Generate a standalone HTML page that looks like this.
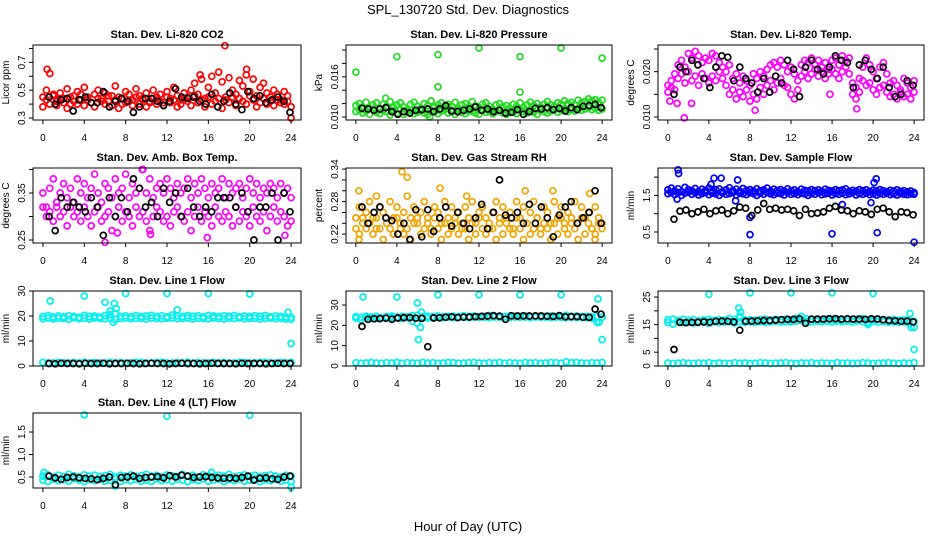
<!DOCTYPE html>
<html><head><meta charset="utf-8">
<style>
html,body{margin:0;padding:0;background:#fff;}
svg{display:block;font-family:"Liberation Sans",Arial,sans-serif;}
</style></head>
<body>
<svg id="chart" width="936" height="540" viewBox="0 0 936 540" xmlns="http://www.w3.org/2000/svg">
<text x="468" y="14" font-size="13" text-anchor="middle">SPL_130720  Std. Dev. Diagnostics</text>
<text x="468" y="531" font-size="13" text-anchor="middle">Hour of Day (UTC)</text>
</svg>
<script>
const xTicks=[0,4,8,12,16,20,24];
// CO2
const co2A=[0.45,0.50,0.62,0.47,0.42,0.48,0.44,0.51,0.40,0.46,0.49,0.43,0.52,0.45,0.41,0.47,0.50,0.44,0.48,0.42,0.46,0.53,0.45,0.40,0.49,0.47,0.43,0.51,0.46,0.44,0.48,0.42,0.50,0.45,0.47,0.41,0.49,0.44,0.52,0.46,0.43,0.48,0.45,0.50,0.55,0.47,0.58,0.44,0.52,0.60,0.48,0.63,0.56,0.45,0.59,0.50,0.47,0.57,0.53,0.61,0.49,0.58,0.46,0.52,0.55,0.48,0.45,0.50,0.47,0.43,0.49,0.46,0.30];
const co2B=[0.38,0.43,0.40,0.46,0.39,0.44,0.41,0.37,0.45,0.42,0.40,0.47,0.39,0.43,0.41,0.38,0.44,0.42,0.40,0.46,0.39,0.43,0.37,0.44,0.41,0.42,0.39,0.45,0.40,0.43,0.38,0.41,0.44,0.40,0.42,0.39,0.45,0.41,0.43,0.38,0.40,0.44,0.42,0.39,0.46,0.41,0.43,0.38,0.45,0.40,0.42,0.44,0.37,0.43,0.41,0.45,0.39,0.44,0.42,0.40,0.46,0.43,0.38,0.41,0.44,0.40,0.42,0.39,0.43,0.41,0.40,0.42,0.38];
const co2Out=[[17.6,0.82],[0.4,0.65],[19.7,0.65],[15.2,0.61]];
const co2Blk=[0.45,0.40,0.43,0.44,0.35,0.43,0.45,0.41,0.41,0.49,0.38,0.42,0.44,0.42,0.34,0.38,0.44,0.44,0.42,0.39,0.42,0.51,0.45,0.44,0.45,0.42,0.40,0.47,0.38,0.42,0.48,0.40,0.36,0.49,0.44,0.46,0.41,0.43,0.45,0.42,0.34];
// Pressure
const prsA=[0.0117,0.0120,0.0115,0.0122,0.0113,0.0118,0.0121,0.0112,0.0119,0.0116,0.0123,0.0114,0.0118,0.0121,0.0115,0.0111,0.0119,0.0122,0.0116,0.0113,0.0120,0.0117,0.0124,0.0115,0.0118,0.0121,0.0114,0.0119,0.0116,0.0122,0.0113,0.0118,0.0120,0.0115,0.0123,0.0117,0.0114,0.0119,0.0121,0.0116,0.0112,0.0118,0.0120,0.0115,0.0117,0.0113,0.0119,0.0116,0.0121,0.0114,0.0118,0.0122,0.0117,0.0120,0.0115,0.0119,0.0123,0.0118,0.0116,0.0121,0.0119,0.0124,0.0120,0.0122,0.0118,0.0125,0.0121,0.0123,0.0127,0.0124,0.0126,0.0122,0.0125];
const prsB=[0.0108,0.0110,0.0106,0.0109,0.0104,0.0111,0.0107,0.0105,0.0110,0.0108,0.0103,0.0109,0.0106,0.0111,0.0104,0.0108,0.0110,0.0105,0.0107,0.0109,0.0106,0.0104,0.0110,0.0108,0.0105,0.0109,0.0111,0.0106,0.0108,0.0104,0.0110,0.0107,0.0105,0.0109,0.0108,0.0106,0.0104,0.0110,0.0107,0.0109,0.0105,0.0108,0.0110,0.0106,0.0104,0.0109,0.0107,0.0105,0.0111,0.0108,0.0106,0.0109,0.0107,0.0104,0.0110,0.0108,0.0106,0.0109,0.0111,0.0107,0.0110,0.0112,0.0108,0.0111,0.0109,0.0113,0.0110,0.0112,0.0114,0.0111,0.0113,0.0110,0.0112];
const prsOut=[[0,0.0167],[4,0.019],[8,0.0193],[8,0.0145],[12,0.0203],[16,0.019],[16,0.0137],[20,0.0203],[24,0.0188],[7.2,0.0100],[2.9,0.0128]];
const prsBlk=[0.0113,0.0112,0.0110,0.0112,0.0114,0.0108,0.0104,0.0108,0.0106,0.0110,0.0111,0.0112,0.0108,0.0112,0.0117,0.0109,0.0108,0.0110,0.0112,0.0115,0.0110,0.0112,0.0108,0.0110,0.0106,0.0107,0.0111,0.0104,0.0108,0.0113,0.0112,0.0114,0.0111,0.0113,0.0109,0.0114,0.0111,0.0116,0.0117,0.0119,0.0114];
// Li-820 Temp
const tmpA=[0.0170,0.0180,0.0195,0.0215,0.0225,0.0210,0.0240,0.0230,0.0245,0.0235,0.0220,0.0230,0.0225,0.0240,0.0235,0.0220,0.0210,0.0200,0.0215,0.0185,0.0195,0.0175,0.0190,0.0180,0.0170,0.0195,0.0185,0.0200,0.0190,0.0205,0.0215,0.0220,0.0210,0.0225,0.0215,0.0200,0.0210,0.0195,0.0180,0.0215,0.0225,0.0220,0.0230,0.0215,0.0225,0.0210,0.0220,0.0205,0.0225,0.0230,0.0215,0.0235,0.0225,0.0230,0.0175,0.0165,0.0185,0.0210,0.0230,0.0215,0.0200,0.0185,0.0210,0.0220,0.0195,0.0175,0.0180,0.0170,0.0160,0.0185,0.0175,0.0165,0.0180];
const tmpB=[0.0155,0.0165,0.0160,0.0185,0.0195,0.0175,0.0200,0.0180,0.0190,0.0170,0.0195,0.0185,0.0175,0.0190,0.0180,0.0200,0.0185,0.0170,0.0150,0.0160,0.0140,0.0155,0.0145,0.0160,0.0135,0.0150,0.0140,0.0165,0.0150,0.0170,0.0180,0.0160,0.0175,0.0185,0.0170,0.0165,0.0150,0.0140,0.0160,0.0190,0.0200,0.0185,0.0195,0.0205,0.0190,0.0200,0.0185,0.0195,0.0205,0.0195,0.0185,0.0200,0.0210,0.0195,0.0150,0.0140,0.0155,0.0180,0.0170,0.0175,0.0160,0.0150,0.0165,0.0170,0.0155,0.0145,0.0150,0.0140,0.0155,0.0145,0.0150,0.0140,0.0155];
const tmpOut=[[1.6,0.0098],[0.2,0.0135],[0.9,0.0130],[2.3,0.0130],[15.8,0.0150],[18.4,0.0118],[8.5,0.0115]];
const tmpBlk=[0.0150,0.0210,0.0200,0.0225,0.0215,0.0185,0.0165,0.0210,0.0235,0.0232,0.0180,0.0210,0.0185,0.0175,0.0155,0.0185,0.0155,0.0190,0.0175,0.0225,0.0205,0.0145,0.0210,0.0225,0.0205,0.0195,0.0210,0.0235,0.0225,0.0220,0.0165,0.0215,0.0225,0.0205,0.0185,0.0210,0.0165,0.0145,0.0150,0.0180,0.0170];
// Amb box temp
const ambA=[0.35,0.32,0.36,0.38,0.33,0.35,0.37,0.34,0.36,0.33,0.38,0.35,0.37,0.34,0.36,0.39,0.35,0.33,0.37,0.36,0.34,0.38,0.35,0.36,0.39,0.34,0.37,0.35,0.36,0.40,0.35,0.38,0.34,0.36,0.37,0.35,0.38,0.36,0.34,0.37,0.35,0.36,0.38,0.34,0.37,0.35,0.38,0.36,0.34,0.37,0.35,0.36,0.38,0.34,0.37,0.35,0.36,0.37,0.34,0.36,0.38,0.35,0.37,0.34,0.36,0.35,0.37,0.36,0.34,0.37,0.35,0.36,0.34];
const ambB=[0.32,0.30,0.31,0.29,0.32,0.30,0.31,0.28,0.32,0.30,0.31,0.29,0.32,0.30,0.28,0.31,0.32,0.29,0.30,0.31,0.27,0.30,0.32,0.29,0.31,0.30,0.28,0.32,0.30,0.31,0.29,0.27,0.30,0.32,0.31,0.29,0.30,0.28,0.31,0.32,0.30,0.29,0.31,0.27,0.30,0.32,0.29,0.31,0.30,0.28,0.32,0.30,0.29,0.31,0.30,0.28,0.32,0.29,0.31,0.30,0.28,0.32,0.30,0.29,0.31,0.27,0.30,0.32,0.29,0.31,0.30,0.28,0.29];
const ambOut=[[6.0,0.245],[9.6,0.40],[7.2,0.265],[10.4,0.262],[15.9,0.255],[23.4,0.26]];
const ambBlk=[0.30,0.27,0.34,0.32,0.33,0.32,0.31,0.34,0.32,0.26,0.34,0.30,0.34,0.31,0.38,0.36,0.32,0.33,0.30,0.36,0.33,0.35,0.30,0.36,0.32,0.30,0.32,0.31,0.34,0.34,0.34,0.32,0.35,0.31,0.25,0.32,0.32,0.35,0.25,0.35,0.31];
// RH
const rhA=[0.25,0.27,0.24,0.26,0.28,0.25,0.23,0.27,0.26,0.24,0.28,0.25,0.27,0.23,0.26,0.29,0.25,0.27,0.24,0.26,0.28,0.25,0.23,0.27,0.26,0.24,0.28,0.25,0.27,0.24,0.26,0.23,0.27,0.25,0.28,0.24,0.26,0.27,0.25,0.23,0.26,0.28,0.24,0.27,0.25,0.26,0.23,0.28,0.25,0.27,0.24,0.26,0.28,0.25,0.23,0.27,0.26,0.24,0.28,0.25,0.27,0.24,0.26,0.25,0.28,0.24,0.27,0.25,0.26,0.23,0.27,0.25,0.24];
const rhB=[0.23,0.22,0.25,0.23,0.24,0.22,0.25,0.23,0.21,0.24,0.23,0.22,0.25,0.24,0.22,0.23,0.21,0.24,0.25,0.22,0.23,0.24,0.22,0.25,0.23,0.21,0.24,0.22,0.23,0.25,0.22,0.24,0.23,0.21,0.24,0.22,0.25,0.23,0.22,0.24,0.23,0.21,0.25,0.22,0.24,0.23,0.22,0.25,0.23,0.21,0.24,0.22,0.23,0.25,0.22,0.24,0.23,0.21,0.24,0.22,0.25,0.23,0.22,0.24,0.23,0.21,0.25,0.22,0.24,0.23,0.22,0.24,0.23];
const rhOut=[[0.3,0.30],[0.3,0.21],[4.5,0.335],[5.0,0.325],[8.2,0.305],[2.0,0.29],[10.8,0.29],[16.5,0.30],[19.2,0.30],[22.8,0.295],[23.3,0.21]];
const rhBlk=[0.27,0.24,0.26,0.27,0.25,0.245,0.22,0.24,0.21,0.265,0.215,0.265,0.225,0.25,0.27,0.235,0.26,0.24,0.23,0.25,0.275,0.23,0.26,0.32,0.255,0.25,0.26,0.24,0.275,0.24,0.27,0.25,0.215,0.255,0.27,0.28,0.24,0.25,0.26,0.30,0.24];
// Sample flow
const sfA=[1.65,1.70,1.62,1.68,1.60,1.72,1.66,1.63,1.69,1.61,1.67,1.64,1.70,1.62,1.66,1.68,1.60,1.65,1.71,1.63,1.67,1.61,1.69,1.64,1.66,1.62,1.68,1.63,1.65,1.70,1.61,1.67,1.64,1.66,1.62,1.68,1.63,1.65,1.60,1.67,1.64,1.62,1.66,1.63,1.65,1.61,1.67,1.64,1.62,1.66,1.63,1.65,1.68,1.61,1.64,1.62,1.66,1.63,1.65,1.61,1.64,1.62,1.66,1.63,1.60,1.64,1.62,1.65,1.61,1.63,1.60,1.62,1.58];
const sfB=[1.55,1.58,1.52,1.57,1.50,1.56,1.59,1.53,1.57,1.51,1.55,1.58,1.52,1.56,1.54,1.50,1.57,1.53,1.55,1.58,1.51,1.56,1.54,1.52,1.57,1.55,1.50,1.56,1.53,1.58,1.54,1.52,1.56,1.55,1.51,1.57,1.53,1.55,1.52,1.56,1.54,1.50,1.55,1.53,1.57,1.52,1.54,1.56,1.51,1.55,1.53,1.56,1.52,1.54,1.57,1.51,1.55,1.53,1.56,1.52,1.54,1.51,1.55,1.53,1.56,1.52,1.54,1.51,1.55,1.53,1.52,1.54,1.53];
const sfOut=[[1.0,2.2],[1.05,2.1],[4.5,1.97],[5.2,1.97],[4.2,1.8],[6.8,1.92],[20.3,1.95],[20.1,1.85],[8.0,0.43],[16.0,0.45],[20.4,0.48],[24.0,0.22],[8.0,0.9],[0.9,1.4],[17.0,1.25],[19.8,1.3],[6.6,1.35]];
const sfBlk=[0.85,1.07,1.10,1.00,1.05,1.12,1.00,1.08,1.10,1.00,1.08,1.18,1.15,0.95,1.10,1.28,1.12,1.15,1.10,1.12,1.08,0.95,1.12,1.00,1.02,1.05,1.15,1.20,1.10,1.08,1.00,1.08,1.05,0.98,1.12,1.15,1.05,0.92,1.05,1.03,0.97];
// Line 1
const l1A=[19.8,20.2,19.6,20.0,19.7,20.1,19.9,19.5,20.3,19.8,20.0,19.6,20.2,20.5,21.0,19.9,20.1,19.7,20.2,19.8,20.0,20.3,19.9,20.1,19.7,20.4,20.0,19.8,20.2,19.9,20.1,19.7,20.3,20.0,19.8,20.1,19.9,20.2,19.7,20.0,19.8,20.1,19.9,20.2,19.7,20.0,19.8,19.6,19.5];
const l1B=[18.9,19.2,18.8,19.1,19.0,18.7,19.3,18.9,19.1,18.8,19.2,19.0,18.9,19.1,18.6,19.0,19.2,18.9,19.1,19.0,18.8,19.2,19.0,18.9,19.1,19.3,18.9,19.0,19.2,18.8,19.1,19.0,18.9,19.2,19.0,18.8,19.1,19.0,19.2,18.9,19.0,19.1,18.8,19.0,19.2,18.9,19.0,18.8,18.7];
const l1Low=[1.4,1.2,1.3,1.5,1.3,1.2,1.4,1.3,1.5,1.2,1.4,1.3,1.2,1.5,1.3,1.4,1.2,1.3,1.5,1.4,1.2,1.3,1.4,1.5,1.3,1.2,1.4,1.3,1.5,1.2,1.4,1.3,1.2,1.5,1.3,1.4,1.2,1.3,1.5,1.4,1.2,1.3,1.4,1.5,1.3,1.2,1.4,1.3,1.5];
const l1Out=[[0.7,26],[4,28],[6,25.5],[6.5,22],[6.9,25],[7.1,23],[6.8,17.5],[8,29],[12,29],[16,29],[20,28.8],[13,22.5],[23.7,21.5],[24,9]];
const l1Blk=[1.0,0.9,1.1,1.0,1.0,0.9,1.1,1.0,1.0,1.1,0.9,1.0,1.0,1.1,1.0,0.9,1.0,1.1,1.0,1.0,0.9,1.0,1.1,1.0,1.0,0.9,1.0,1.1,1.0,1.0,1.0,0.9,1.1,1.0,1.0,1.0,0.9,1.0,1.1,1.0,1.0];
// Line 2
const l2A=[24.3,24.0,24.5,24.2,24.4,23.9,24.3,24.6,24.1,24.4,24.2,24.8,25.0,24.2,24.5,24.3,24.6,24.2,24.4,24.5,24.3,24.7,24.4,24.6,24.3,24.5,24.8,24.4,24.6,24.3,24.7,24.5,24.4,24.6,24.3,24.5,24.7,24.4,24.6,24.3,24.5,25.0,24.4,24.6,24.3,24.5,24.2,24.4,24.0];
const l2B=[23.5,22.8,23.8,23.6,23.4,23.7,23.5,23.8,23.6,23.4,23.9,22.0,21.0,23.7,23.6,23.8,23.9,23.7,24.0,23.8,23.9,24.0,23.8,24.1,23.9,24.0,23.8,24.1,23.9,24.0,23.8,24.1,23.9,24.0,23.8,24.1,23.9,24.0,23.8,24.0,23.9,23.8,24.0,23.8,23.9,23.7,23.5,21.5,24.0];
const l2Low=[1.6,1.4,1.5,1.7,1.5,1.4,1.6,1.5,1.7,1.4,1.6,1.5,1.4,1.7,1.5,1.6,1.4,1.5,1.7,1.6,1.4,1.5,1.6,1.7,1.5,1.4,1.6,1.5,1.7,1.4,1.6,1.5,1.4,1.7,1.5,1.6,1.4,1.5,1.7,1.6,1.4,2.0,1.6,1.7,1.5,1.4,1.6,1.5,1.7];
const l2Out=[[0.7,34],[4,34],[6,31],[6.1,13],[6.3,19],[6.4,26.5],[8,35],[12,35],[16,35],[20,35],[23.6,33],[23.7,21.5],[24,13]];
const l2Blk=[19.5,23.0,23.2,23.3,23.5,23.0,23.6,23.8,23.8,23.5,23.4,9.5,23.6,23.7,24.0,24.2,23.8,24.0,24.1,24.3,24.4,24.6,24.8,24.5,23.0,24.7,24.6,24.7,24.6,24.7,24.6,24.5,24.4,24.8,24.2,24.3,24.3,24.0,23.9,28.0,25.5];
// Line 3
const l3A=[16.8,17.0,16.5,16.9,16.6,16.8,16.4,16.7,16.9,16.5,16.8,16.6,17.2,16.9,17.5,16.7,16.8,16.6,16.9,17.0,16.7,16.9,16.8,17.0,16.7,17.3,18.0,17.1,16.9,17.0,16.8,17.1,16.9,17.0,16.8,17.1,16.9,17.0,17.2,16.8,16.9,17.1,16.8,16.7,16.9,16.6,16.8,16.5,16.2];
const l3B=[15.8,15.2,16.0,15.7,15.9,15.6,16.0,15.8,15.5,16.0,15.7,15.9,16.0,15.6,16.1,15.8,16.0,15.9,16.1,15.8,16.0,16.2,15.9,16.1,16.0,16.3,16.5,16.2,16.0,16.3,16.1,16.2,16.0,16.3,16.1,16.2,16.0,16.3,16.1,15.8,16.2,16.0,16.1,15.9,16.0,15.8,16.0,15.5,14.0];
const l3Low=[1.1,0.9,1.0,1.2,1.0,0.9,1.1,1.0,1.2,0.9,1.1,1.0,0.9,1.2,1.0,1.1,0.9,1.0,1.2,1.1,0.9,1.0,1.1,1.2,1.0,0.9,1.1,1.0,1.2,0.9,1.1,1.0,0.9,1.2,1.0,1.1,0.9,1.0,1.2,1.1,0.9,1.0,1.1,1.2,1.0,0.9,1.1,1.0,1.2];
const l3Out=[[4,26],[8,26.5],[12,26.5],[16,26.5],[20,26.3],[6.9,21],[7.1,19.5],[7,18],[19.5,15],[23.6,19],[23.7,14],[24,6]];
const l3Blk=[6.0,15.8,15.7,15.8,15.8,16.0,15.9,16.2,16.3,16.2,16.0,13.0,16.2,16.3,16.4,16.5,16.5,16.7,16.8,16.9,16.9,17.1,15.5,17.0,17.0,17.0,17.1,17.2,17.0,17.1,17.0,17.0,16.9,17.1,17.0,16.8,16.5,16.4,16.2,16.3,16.0];
// Line 4
const l4A=[0.52,0.55,0.50,0.54,0.51,0.56,0.53,0.50,0.55,0.52,0.54,0.51,0.53,0.56,0.50,0.54,0.52,0.55,0.51,0.53,0.56,0.52,0.54,0.50,0.55,0.53,0.51,0.56,0.52,0.54,0.50,0.55,0.53,0.51,0.54,0.52,0.56,0.50,0.53,0.55,0.52,0.54,0.51,0.53,0.55,0.52,0.50,0.54,0.52];
const l4B=[0.43,0.40,0.45,0.42,0.44,0.41,0.46,0.43,0.40,0.44,0.42,0.45,0.41,0.43,0.46,0.40,0.44,0.42,0.45,0.41,0.43,0.40,0.46,0.42,0.44,0.41,0.45,0.43,0.40,0.44,0.42,0.46,0.41,0.43,0.45,0.40,0.44,0.42,0.45,0.41,0.43,0.46,0.40,0.44,0.42,0.45,0.41,0.43,0.40];
const l4Out=[[4,1.88],[12,1.85],[20,1.87],[7,0.3],[24,0.27],[16.3,0.6],[0.1,0.6]];
const l4Blk=[0.52,0.48,0.45,0.49,0.50,0.48,0.47,0.46,0.44,0.47,0.50,0.33,0.49,0.50,0.52,0.47,0.49,0.50,0.51,0.48,0.53,0.50,0.54,0.52,0.49,0.50,0.51,0.49,0.48,0.47,0.48,0.47,0.49,0.52,0.43,0.47,0.48,0.46,0.45,0.50,0.52];

const cols=[{l:33,r:301},{l:346,r:612},{l:658,r:924}];
const rows=[45,168,291,413];
const H=75;
const panels=[
 {name:'co2',title:'Stan. Dev. Li-820 CO2',ylab:'Licor ppm',c:0,r:0,ymin:0.2856,ymax:0.825,ticks:[0.3,0.4,0.5,0.6,0.7,0.8],labs:['0.3','0.5','0.7'],labv:[0.3,0.5,0.7],color:'#ff0000',series:[co2A,co2B],low:null,out:co2Out,blk:co2Blk},
 {name:'pressure',title:'Stan. Dev. Li-820 Pressure',ylab:'kPa',c:1,r:0,ymin:0.00955,ymax:0.02075,ticks:[0.010,0.012,0.014,0.016,0.018,0.020],labs:['0.010','0.016'],labv:[0.010,0.016],color:'#1fdc1f',series:[prsA,prsB],low:null,out:prsOut,blk:prsBlk},
 {name:'li820-temp',title:'Stan. Dev. Li-820 Temp.',ylab:'degrees C',c:2,r:0,ymin:0.00934,ymax:0.02588,ticks:[0.010,0.015,0.020,0.025],labs:['0.010','0.020'],labv:[0.010,0.020],color:'#ff00ff',series:[tmpA,tmpB],low:null,out:tmpOut,blk:tmpBlk},
 {name:'amb-box-temp',title:'Stan. Dev. Amb. Box Temp.',ylab:'degrees C',c:0,r:1,ymin:0.2436,ymax:0.4032,ticks:[0.25,0.30,0.35,0.40],labs:['0.25','0.35'],labv:[0.25,0.35],color:'#ff00ff',series:[ambA,ambB],low:null,out:ambOut,blk:ambBlk},
 {name:'gas-stream-rh',title:'Stan. Dev. Gas Stream RH',ylab:'percent',c:1,r:1,ymin:0.2036,ymax:0.342,ticks:[0.22,0.24,0.26,0.28,0.30,0.32,0.34],labs:['0.22','0.28','0.34'],labv:[0.22,0.28,0.34],color:'#f2a400',series:[rhA,rhB],low:null,out:rhOut,blk:rhBlk},
 {name:'sample-flow',title:'Stan. Dev. Sample Flow',ylab:'ml/min',c:2,r:1,ymin:0.1995,ymax:2.249,ticks:[0.5,1.0,1.5,2.0],labs:['0.5','1.5'],labv:[0.5,1.5],color:'#0000ff',series:[sfA,sfB],low:null,out:sfOut,blk:sfBlk},
 {name:'line1-flow',title:'Stan. Dev. Line 1 Flow',ylab:'ml/min',c:0,r:2,ymin:0,ymax:30,ticks:[0,10,20,30],labs:['0','10','20','30'],labv:[0,10,20,30],color:'#00f0f0',series:[l1A,l1B],low:l1Low,out:l1Out,blk:l1Blk},
 {name:'line2-flow',title:'Stan. Dev. Line 2 Flow',ylab:'ml/min',c:1,r:2,ymin:0,ymax:36.9,ticks:[0,10,20,30],labs:['0','10','20','30'],labv:[0,10,20,30],color:'#00f0f0',series:[l2A,l2B],low:l2Low,out:l2Out,blk:l2Blk},
 {name:'line3-flow',title:'Stan. Dev. Line 3 Flow',ylab:'ml/min',c:2,r:2,ymin:0,ymax:27.2,ticks:[0,5,10,15,20,25],labs:['0','5','15','25'],labv:[0,5,15,25],color:'#00f0f0',series:[l3A,l3B],low:l3Low,out:l3Out,blk:l3Blk},
 {name:'line4-flow',title:'Stan. Dev. Line 4 (LT) Flow',ylab:'ml/min',c:0,r:3,ymin:0.256,ymax:1.922,ticks:[0.5,1.0,1.5],labs:['0.5','1.0','1.5'],labv:[0.5,1.0,1.5],color:'#00f0f0',series:[l4A,l4B],low:null,out:l4Out,blk:l4Blk}
];
const NS='http://www.w3.org/2000/svg';
const svg=document.getElementById('chart');
function mk(tag,parent){const e=document.createElementNS(NS,tag);parent.appendChild(e);return e;}
function dot(g,x,y,color,nm){
  const c=mk('circle',g);
  c.setAttribute('cx',x.toFixed(1));c.setAttribute('cy',y.toFixed(1));c.setAttribute('r','3');
  c.setAttribute('fill','none');c.setAttribute('stroke',color);c.setAttribute('stroke-width','1.7');
  
  
}
panels.forEach(p=>{
  const L=cols[p.c].l,R=cols[p.c].r,T=rows[p.r],B=T+H;
  const x0=L+(R-L)*0.96/25.92, x24=R-(R-L)*0.96/25.92;
  const sx=h=>x0+(x24-x0)*h/24;
  const sy=v=>B-(v-p.ymin)/(p.ymax-p.ymin)*H;
  const g=mk('g',svg);
  
  
  const t=mk('text',g);t.textContent=p.title;
  t.setAttribute('x',(L+R)/2);t.setAttribute('y',T-7);t.setAttribute('text-anchor','middle');
  t.setAttribute('font-size','11');t.setAttribute('font-weight','bold');
  
  
  const yl=mk('text',g);yl.textContent=p.ylab;
  yl.setAttribute('transform','translate('+(L-24)+','+(T+H/2)+') rotate(-90)');
  yl.setAttribute('text-anchor','middle');yl.setAttribute('font-size','10');
  
  
  const pg=mk('g',g);
  
  
  const clip=v=>Math.max(T,Math.min(B,v));
  p.series.forEach(s=>{s.forEach((v,i)=>dot(pg,sx(i*24/(s.length-1)),clip(sy(v)),p.color,p.name+'-point'));});
  if(p.low){p.low.forEach((v,i)=>dot(pg,sx(i*24/(p.low.length-1)),clip(sy(v)),p.color,p.name+'-low-point'));}
  p.out.forEach(o=>dot(pg,sx(o[0]),clip(sy(o[1])),p.color,p.name+'-outlier'));
  p.blk.forEach((v,i)=>dot(pg,sx(0.6+i*23.3/(p.blk.length-1)),clip(sy(v)),'#000',p.name+'-hourly-point'));
  const bx=mk('rect',g);
  bx.setAttribute('x',L);bx.setAttribute('y',T);bx.setAttribute('width',R-L);bx.setAttribute('height',H);
  bx.setAttribute('fill','none');bx.setAttribute('stroke','#000');bx.setAttribute('stroke-width','1');
  
  
  xTicks.forEach(h=>{
    const ln=mk('line',g);ln.setAttribute('x1',sx(h));ln.setAttribute('x2',sx(h));ln.setAttribute('y1',B);ln.setAttribute('y2',B+4);ln.setAttribute('stroke','#000');
    
    
    const tx=mk('text',g);tx.textContent=h;tx.setAttribute('x',sx(h));tx.setAttribute('y',B+21);
    tx.setAttribute('text-anchor','middle');tx.setAttribute('font-size','10');
    
    
  });
  p.ticks.forEach(v=>{
    const ln=mk('line',g);ln.setAttribute('x1',L-4);ln.setAttribute('x2',L);ln.setAttribute('y1',sy(v));ln.setAttribute('y2',sy(v));ln.setAttribute('stroke','#000');
    
    
  });
  p.labs.forEach((lb,i)=>{
    const tx=mk('text',g);tx.textContent=lb;
    tx.setAttribute('transform','translate('+(L-8)+','+sy(p.labv[i])+') rotate(-90)');
    tx.setAttribute('text-anchor','middle');tx.setAttribute('font-size','10');
    
    
  });
});
</script>
</body></html>
